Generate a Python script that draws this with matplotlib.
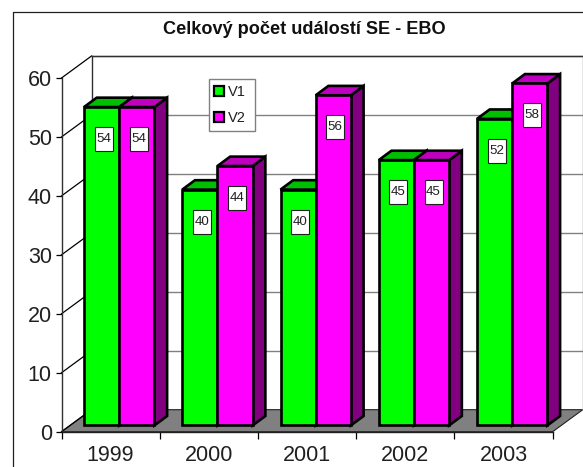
import matplotlib
matplotlib.use("Agg")
import matplotlib.pyplot as plt
from matplotlib.lines import Line2D
from matplotlib.patches import Polygon, Rectangle

plt.rcParams['font.family'] = ['Liberation Sans', 'DejaVu Sans']

# Data
years = ['1999', '2000', '2001', '2002', '2003']
v1 = [54, 40, 40, 45, 52]
v2 = [54, 44, 56, 45, 58]
y_ticks = [0, 10, 20, 30, 40, 50, 60]

W, H = 583, 467
fig = plt.figure(figsize=(W / 100, H / 100), dpi=100)

# front plane of the 3D box, in pixels
left, right, top, bottom = 61.5, 552.7, 78.0, 431.7
ax = fig.add_axes([left / W, 1 - bottom / H, (right - left) / W, (bottom - top) / H])
ax.set_xlim(0, 5)
ax.set_ylim(0, 60)
ax.patch.set_visible(False)
for s in ax.spines.values():
    s.set_visible(False)

# pixel sizes in data units
px = 5 / (right - left)
py = 60 / (bottom - top)


def shift(x, y, dx_px, dy_px):
    return x + dx_px * px, y + dy_px * py


# box depth
DX, DY = 30, 22

# floor
ax.add_patch(Polygon([(0, 0), (5, 0), shift(5, 0, DX, DY), shift(0, 0, DX, DY)],
                     facecolor='#808080', edgecolor='#202020', lw=0.8, clip_on=False, zorder=1))

# walls and gridlines
for t in y_ticks:
    x1, y1 = shift(0, t, DX, DY)
    x2, y2 = shift(5, t, DX, DY)
    if t > 0:
        ax.plot([x1, x2], [y1, y2], color='#808080', lw=1.0, clip_on=False, zorder=2)
    ax.plot([0, x1], [t, y1], color='#000000', lw=0.9, clip_on=False, zorder=2)
xb, yb = shift(0, 0, DX, DY)
xt, yt = shift(0, 60, DX, DY)
xr, yr = shift(5, 60, DX, DY)
xr0, yr0 = shift(5, 0, DX, DY)
ax.plot([xb, xt], [yb, yt], color='#303030', lw=1.0, clip_on=False, zorder=2)
ax.plot([xt, xr], [yt, yr], color='#303030', lw=1.0, clip_on=False, zorder=2)
ax.plot([xr0, xr], [yr0, yr], color='#808080', lw=1.0, clip_on=False, zorder=2)
ax.plot([0, 0], [0, 60], color='#303030', lw=1.0, clip_on=False, zorder=3)
ax.plot([0, 5], [0, 0], color='#202020', lw=1.0, clip_on=False, zorder=3)

# axis ticks
ax.set_yticks(y_ticks)
ax.set_yticklabels([str(t) for t in y_ticks], fontsize=15.5, color='#202020')
ax.set_xticks([i + 0.5 for i in range(5)])
ax.set_xticklabels(years, fontsize=15.5, color='#202020')
ax.tick_params(axis='x', length=0, pad=9.5)
ax.tick_params(axis='y', length=4, width=0.9, pad=3)
ax.set_xticks(range(6), minor=True)
ax.tick_params(axis='x', which='minor', length=4.7, width=0.9)

# bars
BAR_OFF_X, BAR_OFF_Y = 8.6, 6.3
BAR_W = 35.2
BAR_DX, BAR_DY = 12.7, 9.4
LW = 1.9


def bar3d(i, n, value, front, roof, side):
    x0 = i + (98.24 - 2 * BAR_W) / 2 * px + n * BAR_W * px
    x0, y0 = shift(x0, 0, BAR_OFF_X, BAR_OFF_Y)
    x1 = x0 + BAR_W * px
    y1 = y0 + value
    kw = dict(edgecolor='black', lw=LW, joinstyle='miter', clip_on=False, zorder=5 + i + n * 0.1)
    ax.add_patch(Polygon([(x1, y0), shift(x1, y0, BAR_DX, BAR_DY), shift(x1, y1, BAR_DX, BAR_DY), (x1, y1)],
                         facecolor=side, **kw))
    ax.add_patch(Polygon([(x0, y1), (x1, y1), shift(x1, y1, BAR_DX, BAR_DY), shift(x0, y1, BAR_DX, BAR_DY)],
                         facecolor=roof, **kw))
    ax.add_patch(Polygon([(x0, y0), (x1, y0), (x1, y1), (x0, y1)], facecolor=front, **kw))
    # value label
    xc = (x0 + x1) / 2 + 2 * px
    yc = y1 - 32 * py
    bw, bh = 18 * px, 24 * py
    ax.add_patch(Rectangle((xc - bw / 2, yc - bh / 2), bw, bh, facecolor='white', edgecolor='#202020',
                           lw=0.8, clip_on=False, zorder=20))
    ax.text(xc, yc, str(value), ha='center', va='center', fontsize=9.6, color='#202020', zorder=21)


for i in range(5):
    bar3d(i, 0, v1[i], '#00ff00', '#00bf00', '#008000')
    bar3d(i, 1, v2[i], '#ff00ff', '#bf00bf', '#800080')

# legend
handles = [Rectangle((0, 0), 1, 1, facecolor='#00ff00', edgecolor='black', lw=1.6),
           Rectangle((0, 0), 1, 1, facecolor='#ff00ff', edgecolor='black', lw=1.6)]
leg = fig.legend(handles, ['V1', 'V2'], loc='upper left', mode='expand',
                 bbox_to_anchor=(208.5 / W, 1 - 131 / H, 46.5 / W, 51.5 / H), borderaxespad=0, fontsize=10.5,
                 fancybox=False, framealpha=1, edgecolor='#808080', handlelength=0.7, handleheight=0.7,
                 handletextpad=0.25, labelspacing=0.82, borderpad=0.38, labelcolor='#202020')
leg.set_zorder(30)

# title and outer frame
fig.text(304 / W, 1 - 29 / H, 'Celkový počet událostí SE - EBO', ha='center', va='center',
         fontsize=13.1, fontweight='bold', color='#101010')
fig.add_artist(Line2D([12.5 / W, 12.5 / W, 1], [0, 1 - 12 / H, 1 - 12 / H], color='#202020', lw=0.9))

fig.savefig('out.png', dpi=100)
